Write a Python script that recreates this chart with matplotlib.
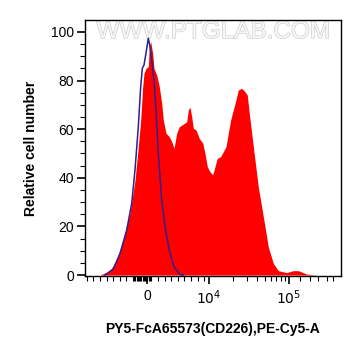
import numpy as np
import matplotlib
matplotlib.use("Agg")
import matplotlib.pyplot as plt
import matplotlib.patheffects as pe

plt.rcParams['font.family'] = ['Liberation Sans', 'DejaVu Sans']

# histogram data, x in display channels (0..256 across the axis), y = % of max
red_x = [15, 25, 31.7, 38.3, 45, 50, 53.3, 55.7, 57.7, 59, 61, 63.3, 64.3, 65.7, 67.7,
         69, 71.7, 74.3, 76.7, 78.3, 81, 84.3, 86.7, 89, 91.7, 94.3, 98.3, 101.7, 103.3,
         105, 106.7, 108.3, 111, 114.3, 117.7, 120, 122.3, 125, 127.7, 130, 132.3, 135.7,
         138.3, 141, 143.3, 145.7, 148.3, 151, 153.3, 156.7, 160, 162.3, 164.3, 166.7,
         170, 173.3, 176.7, 180, 183.3, 188.3, 193.3, 201.7, 208.3, 213.3, 221.7, 231.7]
red_y = [0, 1.8, 6.2, 14.4, 25.4, 39, 52.8, 63.8, 77.5, 83, 85, 85.7, 94, 96, 91,
         85, 82.3, 77.5, 70.6, 63.8, 58.3, 56.9, 54.9, 52.1, 58.3, 61, 62.1, 63, 67.9,
         69, 65.1, 60.4, 59.7, 56.2, 54.3, 50, 44.6, 42.5, 41.2, 44.6, 48, 48.7,
         50.7, 52.8, 58.3, 63.8, 67.9, 72, 76.1, 76.8, 75.4, 74, 66.5, 58.3,
         47.3, 36.3, 28.1, 19.9, 11.6, 4.8, 1.8, 1.0, 1.8, 1.8, 0.4, 0]

blue_x = [20, 28.3, 35, 41.7, 46.7, 50, 53.3, 55.7, 57.3, 59, 61, 63.3, 65, 66.7,
          69, 71, 73.3, 76.7, 80, 84.3, 89, 95, 98.3]
blue_y = [0, 2.5, 8.9, 18.5, 29.5, 43.2, 61, 77.5, 85, 86.4, 91.3, 97.4, 94, 88.5,
          80.2, 67.9, 50, 30.8, 19.9, 10.3, 3.4, 0.2, 0]

x_tick_values = [0, 1e4, 1e5]
x_tick_labels = ['0', '$10^4$', '$10^5$']
y_ticks = [0, 20, 40, 60, 80, 100]


def chan(v):
    # biexponential-like display transform
    return 62 + 35.2 * np.arcsinh(np.asarray(v) / 3546.0)


fig = plt.figure(figsize=(3.61, 3.56), dpi=100)
ax = fig.add_axes([0.2355, 0.2247, 0.709, 0.7191])

ax.fill_between(red_x, red_y, 0, color='#ff0000', lw=0, zorder=2)
ax.plot(blue_x, blue_y, color='#2a2090', lw=1.1, zorder=3)

ax.set_xlim(0, 256)
ax.set_ylim(-0.4, 104.9)

ax.set_xticks(chan(x_tick_values))
ax.set_xticklabels(x_tick_labels)
minor_x = list(np.arange(1.7, 46, 6.6)) + list(np.arange(48, 67, 1.2)) + \
    list(np.arange(73, 121, 6.6)) + list(chan(np.arange(2, 10) * 1e4)) + \
    [215, 225, 233, 242, 248]
ax.set_xticks(minor_x, minor=True)
ax.set_yticks(y_ticks)
ax.set_yticks(np.arange(0, 105, 5), minor=True)

ax.tick_params(axis='both', which='major', length=6, width=1.2, labelsize=10, pad=2)
ax.tick_params(axis='both', which='minor', length=3.5, width=0.8)
ax.tick_params(axis='x', which='major', pad=3)
for s in ax.spines.values():
    s.set_linewidth(1.0)

ax.set_ylabel('Relative cell number', fontsize=10, fontweight='bold', labelpad=9)
ax.set_xlabel('PY5-FcA65573(CD226),PE-Cy5-A', fontsize=10, fontweight='bold', labelpad=11)

ax.text(0.5, 0.953, 'WWW.PTGLAB.COM', transform=ax.transAxes, ha='center', va='center',
        fontsize=17.5, color='#f7f7f7', zorder=1,
        path_effects=[pe.Stroke(linewidth=0.9, foreground='#cccccc'), pe.Normal()])

fig.savefig('out.png', dpi=100)
